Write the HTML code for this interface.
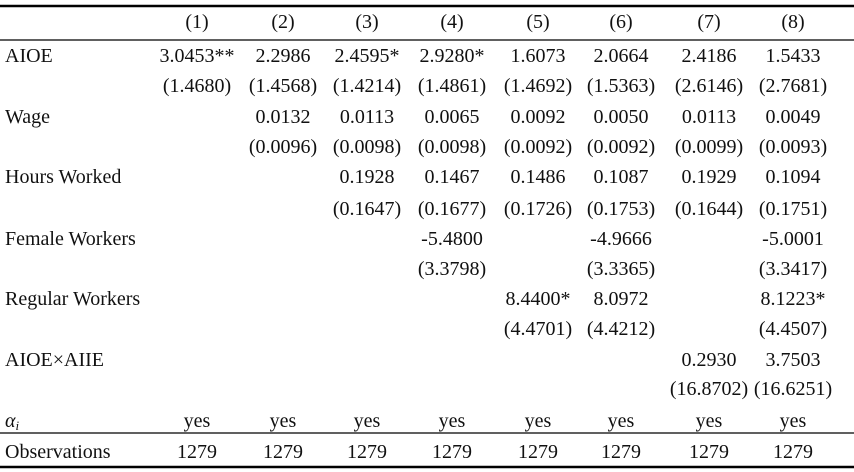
<!DOCTYPE html>
<html><head><meta charset="utf-8"><style>
html,body{margin:0;padding:0;background:#fff;}
svg{display:block;font-family:"Liberation Serif",serif;font-size:20px;fill:#111;}
</style></head><body>
<svg width="854" height="472">
<line x1="0" x2="854" y1="6" y2="6" stroke="#000" stroke-width="2.5"/>
<line x1="0" x2="854" y1="40" y2="40" stroke="#000" stroke-width="1.3"/>
<line x1="0" x2="854" y1="433" y2="433" stroke="#000" stroke-width="1.3"/>
<line x1="0" x2="854" y1="467" y2="467" stroke="#000" stroke-width="2.5"/>
<g id="cells"></g>
</svg>
<script>
const colX=[197,283,367,452,538,621,709,793];
const rowY=[28,62,92,123,153,183,215,245,275,305,335,366,395,427,458];
const headers=["(1)","(2)","(3)","(4)","(5)","(6)","(7)","(8)"];
const labels=["","AIOE","","Wage","","Hours Worked","","Female Workers","","Regular Workers","","AIOE×AIIE","","αi","Observations"];
const cells=[
headers,
["3.0453**","2.2986","2.4595*","2.9280*","1.6073","2.0664","2.4186","1.5433"],
["(1.4680)","(1.4568)","(1.4214)","(1.4861)","(1.4692)","(1.5363)","(2.6146)","(2.7681)"],
["","0.0132","0.0113","0.0065","0.0092","0.0050","0.0113","0.0049"],
["","(0.0096)","(0.0098)","(0.0098)","(0.0092)","(0.0092)","(0.0099)","(0.0093)"],
["","","0.1928","0.1467","0.1486","0.1087","0.1929","0.1094"],
["","","(0.1647)","(0.1677)","(0.1726)","(0.1753)","(0.1644)","(0.1751)"],
["","","","-5.4800","","-4.9666","","-5.0001"],
["","","","(3.3798)","","(3.3365)","","(3.3417)"],
["","","","","8.4400*","8.0972","","8.1223*"],
["","","","","(4.4701)","(4.4212)","","(4.4507)"],
["","","","","","","0.2930","3.7503"],
["","","","","","","(16.8702)","(16.6251)"],
["yes","yes","yes","yes","yes","yes","yes","yes"],
["1279","1279","1279","1279","1279","1279","1279","1279"]];
const g=document.getElementById('cells');
const NS="http://www.w3.org/2000/svg";
labels.forEach((l,r)=>{
 if(!l)return;
 const t=document.createElementNS(NS,'text');
 t.setAttribute('x',5);t.setAttribute('y',rowY[r]);
 
 
 if(l==="αi"){t.innerHTML='<tspan font-style="italic">α</tspan><tspan font-style="italic" font-size="13" dy="3">i</tspan>';}
 else t.textContent=l;
 g.appendChild(t);
});
cells.forEach((row,r)=>row.forEach((v,c)=>{
 if(!v)return;
 const t=document.createElementNS(NS,'text');
 t.setAttribute('x',colX[c]);t.setAttribute('y',rowY[r]);
 t.setAttribute('text-anchor','middle');
 
 
 t.textContent=v;g.appendChild(t);
}));
</script>
</body></html>
